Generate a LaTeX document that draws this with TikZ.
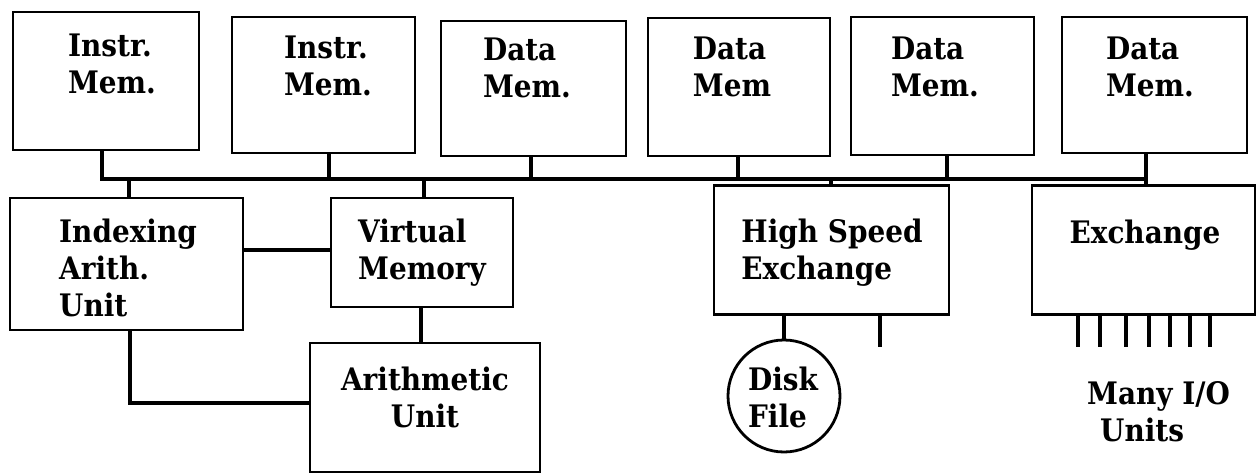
\documentclass[tikz,border=0pt]{standalone}
\usepackage{fontspec}
\setmainfont{DejaVu Serif}[FakeStretch=0.9]
\begin{document}
\begin{tikzpicture}[x=1pt,y=-1pt,
  box/.style={draw, line width=2.8pt, inner sep=0pt},
  wire/.style={line width=3.6pt},
  lbl/.style={inner sep=0pt, align=left,
    font=\fontsize{31}{37}\selectfont\bfseries}]
\useasboundingbox (0,0) rectangle (1259,476);

% memory modules along the top
\node[box, minimum width=186pt, minimum height=138pt] (b1) at (106,81)    {};
\node[box, minimum width=183pt, minimum height=136pt] (b2) at (323.5,85)  {};
\node[box, minimum width=185pt, minimum height=135pt] (b3) at (533.5,88.5){};
\node[box, minimum width=182pt, minimum height=138pt] (b4) at (739,87)    {};
\node[box, minimum width=183pt, minimum height=138pt] (b5) at (942.5,86)  {};
\node[box, minimum width=185pt, minimum height=136pt] (b6) at (1154.5,85) {};
\node[lbl] (b1t) at (112,64) {Instr.\\Mem.};
\node[lbl] (b2t) at (328,66) {Instr.\\Mem.};
\node[lbl] (b3t) at (527,68) {Data\\Mem.};
\node[lbl] (b4t) at (732,67) {Data\\Mem};
\node[lbl] (b5t) at (935,67) {Data\\Mem.};
\node[lbl] (b6t) at (1150,67) {Data\\Mem.};

% processing units
\node[box, minimum width=233pt, minimum height=132pt] (ix) at (126.5,264) {};
\node[lbl] (ixt) at (128,268) {Indexing\\Arith.\\Unit};
\node[box, minimum width=182pt, minimum height=109pt] (vm) at (422,252.5) {};
\node[lbl] (vmt) at (422,253) {Virtual\\Memory};
\node[box, minimum width=230pt, minimum height=129pt] (au) at (425,407.5) {};
\node[lbl, align=center] (aut) at (425,397) {Arithmetic\\Unit};

% exchanges
\node[box, minimum width=235pt, minimum height=129pt] (hse) at (831.5,250) {};
\node[lbl] (hset) at (832,253) {High Speed\\Exchange};
\node[box, minimum width=223pt, minimum height=129pt] (ex) at (1143.5,250) {};
\node[lbl] (ext) at (1145,235) {Exchange};
\node[box, circle, minimum size=112pt] (disk) at (784,396) {};
\node[lbl] (diskt) at (783,397) {Disk\\File};
\node[lbl, anchor=north west] (io) at (1087,381) {Many I/O\\\hspace{13pt}Units};

% bus taps
\coordinate (busL) at (102,179);
\coordinate (x2) at (329,179);
\coordinate (x3) at (531,179);
\coordinate (x4) at (738,179);
\coordinate (x5) at (947,179);
\coordinate (x6) at (1146,179);
\coordinate (xi) at (129,179);
\coordinate (xv) at (424,179);
\coordinate (xh) at (831,179);

\draw[wire] (b1.south -| busL) -- (busL) -- (x6);
\foreach \b/\x in {b2/x2, b3/x3, b4/x4, b5/x5}
  \draw[wire] (\b.south -| \x) -- (\x);
\draw[wire] (b6.south -| x6) -- (ex.north -| x6);
\draw[wire] (xi) -- (ix.north -| xi);
\draw[wire] (xv) -- (vm.north -| xv);
\draw[wire] (xh) -- (hse.north -| xh);

% links among the processing units
\coordinate (hy) at (0,250);
\coordinate (va) at (421,0);
\coordinate (ia) at (130,403);
\draw[wire] (ix.east |- hy) -- (vm.west |- hy);
\draw[wire] (vm.south -| va) -- (au.north -| va);
\draw[wire] (ix.south -| ia) -- (ia) -- (au.west |- ia);

% exchange outputs
\coordinate (hs) at (880,347);
\draw[wire] (hse.south -| disk.north) -- (disk.north);
\draw[wire] (hse.south -| hs) -- (hs);
\foreach \x [count=\i] in {1078,1100,1126,1149,1170,1190,1210} {
  \coordinate (io\i) at (\x,347);
  \draw[wire] (ex.south -| io\i) -- (io\i);
}
\end{tikzpicture}
\end{document}
